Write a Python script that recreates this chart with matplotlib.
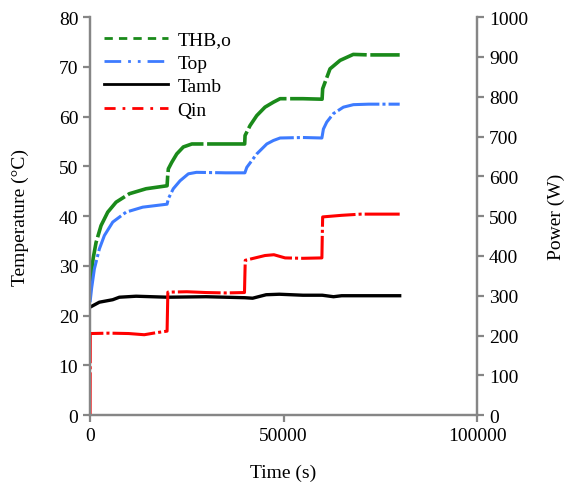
import matplotlib
matplotlib.use("Agg")
import matplotlib.pyplot as plt
from matplotlib.lines import Line2D

plt.rcParams["font.family"] = ["Liberation Serif", "DejaVu Serif"]
plt.rcParams["font.size"] = 14

# ── data ─────────────────────────────────────────────────────────────────────
t_hbo = [0, 300, 800, 1550, 2840, 4570, 6720, 10160, 14470, 19900, 20050,
         20230, 21100, 22400, 24100, 26300, 30000, 35000, 39950, 40050, 41340,
         43070, 45200, 47370, 49100, 55000, 59950, 60100, 62000, 64600, 68000,
         72000, 80000]
T_hbo = [25.0, 28.5, 31.5, 34.7, 38.1, 40.8, 42.8, 44.5, 45.5, 46.1, 48.0,
         49.5, 50.8, 52.5, 53.9, 54.5, 54.5, 54.5, 54.5, 56.2, 58.2,
         60.2, 61.9, 62.9, 63.6, 63.6, 63.5, 65.6, 69.6, 71.3, 72.5,
         72.4, 72.4]

t_top = [0, 400, 1120, 2400, 3700, 5860, 9300, 13600, 19900, 20230, 21500,
         23250, 25400, 27500, 35000, 40000, 40500, 43070, 45660, 47370, 49100,
         55000, 59900, 60290, 61160, 62870, 65460, 68040, 72000, 80000]
T_top = [22.7, 25.5, 29.4, 33.4, 36.1, 38.8, 40.8, 41.8, 42.4, 43.5, 45.5,
         47.1, 48.5, 48.8, 48.7, 48.7, 49.8, 52.5, 54.5, 55.2, 55.7,
         55.8, 55.7, 57.5, 58.9, 60.6, 61.9, 62.4, 62.5, 62.5]

t_amb = [0, 2400, 5860, 7570, 11900, 20000, 30000, 40000, 42000, 45500,
         48900, 55000, 60000, 62900, 65000, 70000, 80000]
T_amb = [21.7, 22.7, 23.2, 23.7, 23.9, 23.7, 23.8, 23.6, 23.5, 24.2,
         24.3, 24.1, 24.1, 23.8, 24.0, 24.0, 24.0]

t_qin = [0, 50, 5000, 10000, 14000, 17000, 19900, 20000, 20100, 25000, 30000,
         35000, 39900, 40000, 40100, 45200, 47500, 50400, 55000, 59900, 60000,
         60100, 65000, 70000, 80000]
P_qin = [0, 205, 206, 205, 202, 207, 211, 260, 309, 310, 308,
         307, 308, 350, 389, 401, 403, 395, 394, 395, 450,
         498, 502, 505, 505]

C_HBO = "#1a8a1a"
C_TOP = "#3d7bff"
C_AMB = "#000000"
C_QIN = "#ff0000"
C_AX = "#868686"

fig = plt.figure(figsize=(5.70, 4.89), dpi=100)
ax = fig.add_axes([0.158, 0.149, 0.679, 0.814])
ax2 = ax.twinx()

ax.plot(t_hbo, T_hbo, color=C_HBO, lw=2.6, ls=(0, (14, 1.0)))
ax.plot(t_top, T_top, color=C_TOP, lw=2.2, ls=(0, (14, 1.0, 1, 1.0)))
ax.plot(t_amb, T_amb, color=C_AMB, lw=2.4)
ax2.plot(t_qin, P_qin, color=C_QIN, lw=2.2, ls=(0, (14, 1.0, 1, 1.0)))

ax.set_xlim(0, 100000)
ax.set_ylim(0, 80)
ax2.set_ylim(0, 1000)
ax.set_xticks([0, 50000, 100000])
ax.set_yticks(range(0, 81, 10))
ax2.set_yticks(range(0, 1001, 100))

for a in (ax, ax2):
    for s in a.spines.values():
        s.set_color(C_AX)
        s.set_linewidth(1.6)
    a.spines["top"].set_visible(False)
    a.tick_params(colors=C_AX, labelcolor="black", length=5, width=1.6,
                  labelsize=14)

ax.set_xlabel("Time (s)", fontsize=14, labelpad=14)
ax.set_ylabel("Temperature (°C)", fontsize=14, labelpad=21)
ax2.set_ylabel("Power (W)", fontsize=14, labelpad=14)

handles = [
    Line2D([], [], color=C_HBO, lw=2.0, ls=(0, (3, 2.2))),
    Line2D([], [], color=C_TOP, lw=2.0, ls=(0, (6, 2.5, 1, 2.5, 1, 2.5))),
    Line2D([], [], color=C_AMB, lw=2.0),
    Line2D([], [], color=C_QIN, lw=2.0, ls=(0, (4, 2.5, 1, 2.5))),
]
labels = ["THB,o", "Top", "Tamb", "Qin"]
ax2.legend(handles, labels, loc="upper left", bbox_to_anchor=(0.0, 1.0),
           frameon=False, fontsize=14, handlelength=3.3, handletextpad=0.5,
           labelspacing=0.3, borderaxespad=0.3)

fig.savefig("out.png", dpi=100)
